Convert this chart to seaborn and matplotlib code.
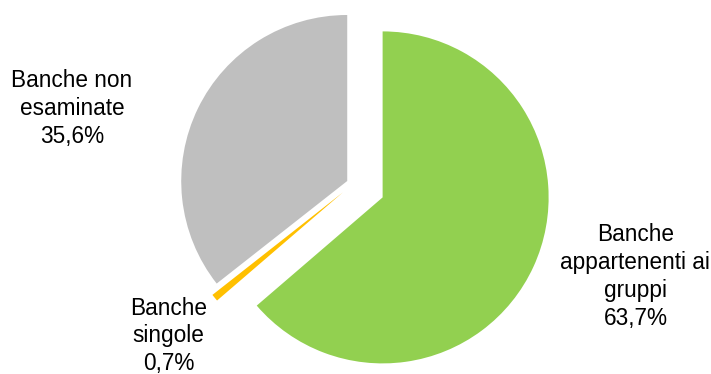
import matplotlib
matplotlib.use("Agg")
import matplotlib.pyplot as plt
import seaborn as sns

# Quota delle banche per tipologia
categories = ["Banche\nappartenenti ai\ngruppi", "Banche\nsingole", "Banche non\nesaminate"]
values = [63.7, 0.7, 35.6]
value_labels = ["63,7%", "0,7%", "35,6%"]
colors = ["#92D050", "#FFC000", "#BFBFBF"]
explode = [0.195, 0.08, 0.04]

# label anchor (x centre, baseline of last line) in data units
label_pos = [(1.700, -0.849), (-1.111, -1.123), (-1.694, 0.246)]

sns.set_theme(style="white")
plt.rcParams["font.family"] = ["Liberation Sans", "DejaVu Sans"]

fig = plt.figure(figsize=(7.11, 3.74), dpi=100)
ax = fig.add_axes([0, 0, 1, 1])

ax.pie(values, colors=colors, explode=explode, startangle=90,
       counterclock=False, radius=1.0,
       wedgeprops=dict(linewidth=0))

for cat, lab, (x, y) in zip(categories, value_labels, label_pos):
    ax.text(x, y, f"{cat}\n{lab}", ha="center", va="baseline",
            fontsize=16.3, color="#000000", linespacing=1.27,
            multialignment="center", clip_on=False)

ax.set_xlim(-2.1277, 2.1554)
ax.set_ylim(-1.1452, 1.1078)
ax.set_aspect("equal")
ax.axis("off")

fig.savefig("out.png", dpi=100, facecolor="white")
